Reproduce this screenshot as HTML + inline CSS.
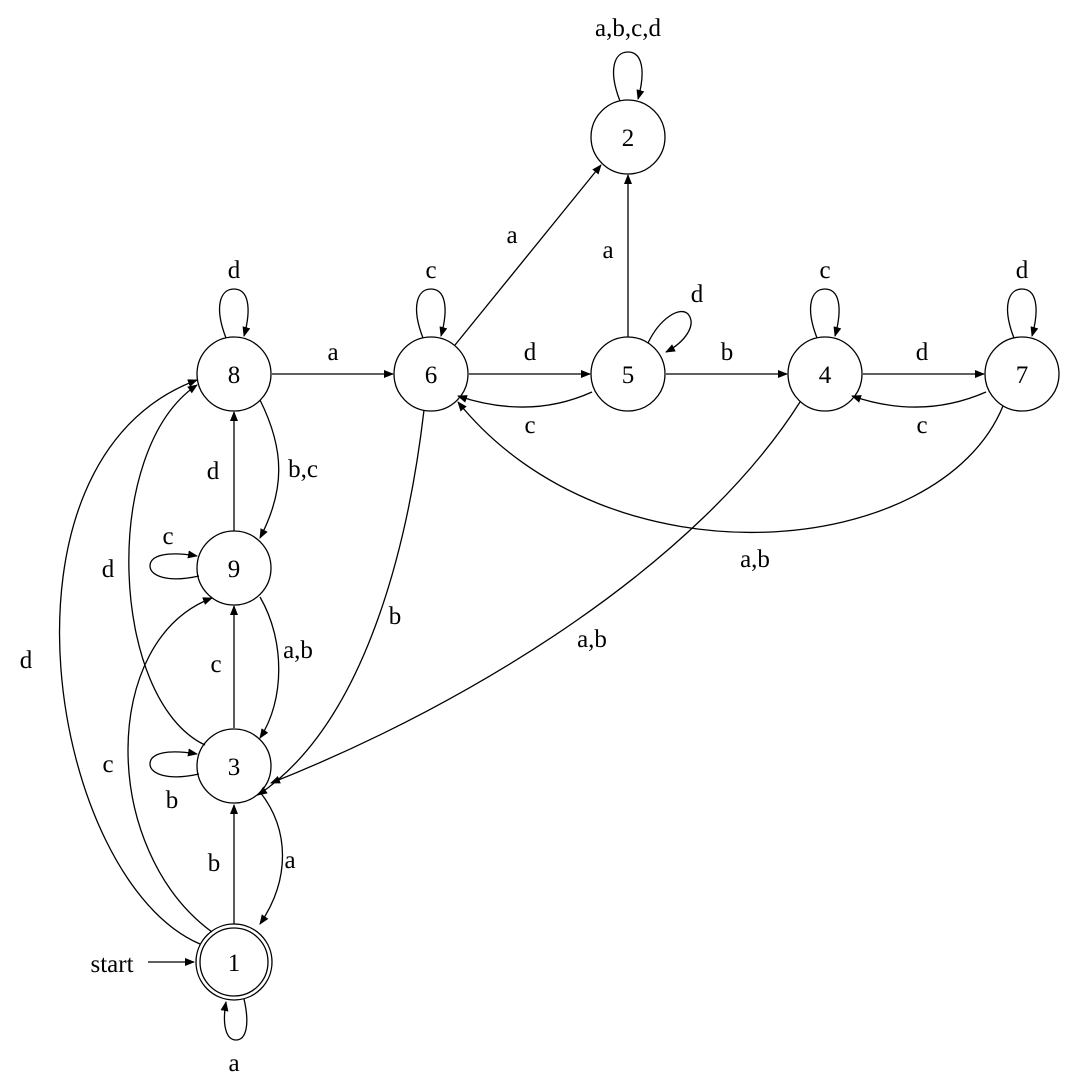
<!DOCTYPE html>
<html><head><style>body{margin:0;background:#fff}svg{display:block}text{font-family:"Liberation Serif",serif;font-size:25px;text-anchor:middle;fill:#000}</style></head><body>
<svg width="1073" height="1084" viewBox="0 0 1073 1084">
<defs><marker id="a" markerWidth="10" markerHeight="8" refX="9" refY="4" orient="auto" markerUnits="userSpaceOnUse"><path d="M0,0 L10,4 L0,8 Z"/></marker></defs>
<g fill="none" stroke="#000" stroke-width="1.3" marker-end="url(#a)">
<path d="M272,374 L393,374"/>
<path d="M469,374 L590,374"/>
<path d="M592,392 Q530,420 458,396"/>
<path d="M666,374 L787,374"/>
<path d="M863,374 L984,374"/>
<path d="M986,392 Q922,420 852,396"/>
<path d="M455,345 L601,165"/>
<path d="M628,337 L628,175"/>
<path d="M1003,406 C940,560 610,590 458,402"/>
<path d="M800,402 C700,560 480,700 271,783"/>
<path d="M424,410 C410,530 370,720 258,795"/>
<path d="M260,400 C285,450 285,490 260,538"/>
<path d="M234,531 L234,412"/>
<path d="M260,597 C285,640 285,700 260,738"/>
<path d="M234,728 L234,606"/>
<path d="M205,745 C110,700 100,450 197,385"/>
<path d="M200,944 C50,880 -20,460 197,380"/>
<path d="M212,932 C100,850 100,640 212,598"/>
<path d="M260,792 C290,830 290,880 260,924"/>
<path d="M234,924 L234,805"/>
<path d="M148,962 L194,962"/>
<path d="M620,101 C608,70 614,52 628,52 C642,52 646,70 638,99"/>
<path d="M226,338 C214,307 220,289 234,289 C248,289 252,307 244,336"/>
<path d="M423,338 C411,307 417,289 431,289 C445,289 449,307 441,336"/>
<path d="M817,338 C805,307 811,289 825,289 C839,289 843,307 835,336"/>
<path d="M1014,338 C1002,307 1008,289 1022,289 C1036,289 1040,307 1032,336"/>
<path d="M648,343 C660,318 680,306 688,314 C697,325 685,342 666,352"/>
<path d="M199,576 C168,583 150,576 150,566 C150,555 168,551 197,556"/>
<path d="M199,774 C168,781 150,774 150,764 C150,753 168,749 197,754"/>
<path d="M244,999 C250,1025 246,1040 236,1040 C226,1040 222,1025 226,1002"/>
</g>
<g fill="none" stroke="#000" stroke-width="1.3">
<circle cx="628" cy="137" r="37"/>
<circle cx="234" cy="374" r="37"/>
<circle cx="431" cy="374" r="37"/>
<circle cx="628" cy="374" r="37"/>
<circle cx="825" cy="374" r="37"/>
<circle cx="1022" cy="374" r="37"/>
<circle cx="234" cy="568" r="37"/>
<circle cx="234" cy="766" r="37"/>
<circle cx="234" cy="962" r="38"/>
<circle cx="234" cy="962" r="34"/>
</g>
<g>
<text x="628" y="146">2</text><text x="234" y="383">8</text><text x="431" y="383">6</text><text x="628" y="383">5</text><text x="825" y="383">4</text><text x="1022" y="383">7</text><text x="234" y="577">9</text><text x="234" y="775">3</text><text x="234" y="971">1</text>
<text x="628" y="36">a,b,c,d</text>
<text x="234" y="278">d</text><text x="431" y="278">c</text><text x="825" y="278">c</text><text x="1022" y="278">d</text><text x="697" y="302">d</text>
<text x="168" y="544">c</text><text x="172" y="808">b</text><text x="234" y="1071">a</text>
<text x="333" y="360">a</text><text x="530" y="360">d</text><text x="530" y="433">c</text><text x="727" y="360">b</text><text x="922" y="360">d</text><text x="922" y="433">c</text>
<text x="512" y="243">a</text><text x="608" y="258">a</text>
<text x="755" y="567">a,b</text><text x="592" y="647">a,b</text><text x="395" y="624">b</text>
<text x="303" y="477">b,c</text><text x="213" y="479">d</text><text x="298" y="658">a,b</text><text x="216" y="672">c</text>
<text x="108" y="577">d</text><text x="26" y="668">d</text><text x="108" y="772">c</text>
<text x="290" y="868">a</text><text x="214" y="871">b</text><text x="112" y="972">start</text>
</g>
</svg>
</body></html>
